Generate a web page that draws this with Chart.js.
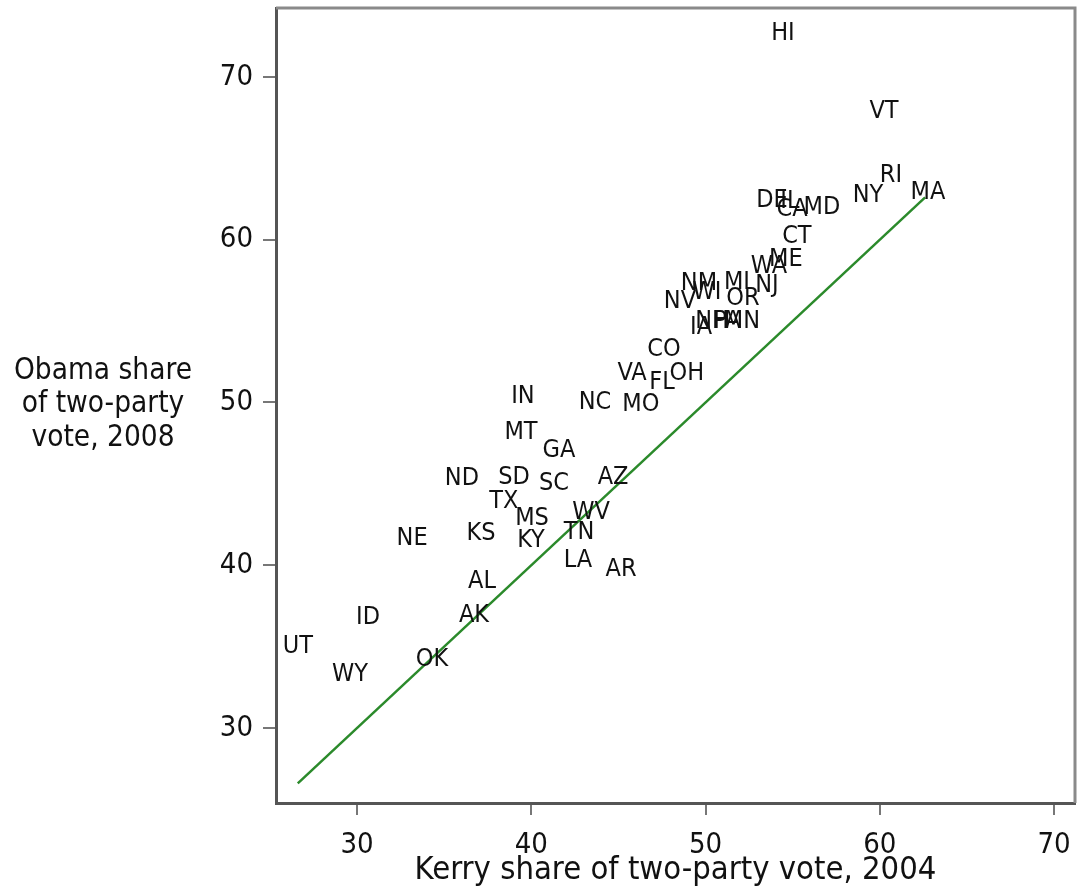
<!DOCTYPE html>
<html>
<head>
<meta charset="utf-8">
<script src="https://cdn.jsdelivr.net/npm/chart.js@4"></script>
<style>
  body { margin: 0; background: #fff; }
  canvas { display: block; }
</style>
</head>
<body>
<canvas id="chart" width="1079" height="894"></canvas>
<script>
// state abbreviations with Kerry 2004 / Obama 2008 two-party shares
const states = ['HI', 'VT', 'RI', 'NY', 'MA', 'DE', 'IL', 'CA', 'MD', 'CT',
    'ME', 'WA', 'NJ', 'MI', 'NM', 'WI', 'OR', 'NV', 'IA', 'NH',
    'PA', 'MN', 'CO', 'VA', 'OH', 'FL', 'MO', 'NC', 'IN', 'MT',
    'GA', 'ND', 'SD', 'SC', 'AZ', 'TX', 'MS', 'WV', 'TN', 'NE',
    'KS', 'KY', 'LA', 'AR', 'AL', 'AK', 'ID', 'UT', 'WY', 'OK'];
const kerry = [54.44, 60.24, 60.64, 59.32, 62.76, 53.81, 54.84, 54.96, 56.68, 55.24,
    54.61, 53.64, 53.52, 51.80, 49.62, 50.08, 52.15, 48.53, 49.74, 50.37,
    51.23, 52.09, 47.61, 45.78, 48.93, 47.50, 46.29, 43.65, 39.52, 39.41,
    41.59, 36.02, 39.01, 41.30, 44.69, 38.43, 40.04, 43.43, 42.74, 33.16,
    37.11, 39.98, 42.68, 45.15, 37.17, 36.71, 30.63, 26.61, 29.60, 34.30];
const obama = [72.70, 67.85, 63.92, 62.69, 62.93, 62.44, 62.38, 61.83, 62.01, 60.23,
    58.76, 58.33, 57.16, 57.40, 57.34, 56.73, 56.42, 56.18, 54.58, 54.95,
    54.95, 54.95, 53.23, 51.81, 51.81, 51.20, 49.85, 49.97, 50.34, 48.13,
    47.08, 45.36, 45.42, 45.05, 45.42, 43.89, 42.90, 43.21, 42.04, 41.67,
    41.98, 41.55, 40.32, 39.71, 38.97, 36.94, 36.76, 34.98, 33.26, 34.18];

// 45-degree reference line, from lowest to highest Kerry share
const lineX = [26.6, 62.6];

const xTicks = [30, 40, 50, 60, 70];
const yTicks = [30, 40, 50, 60, 70];

const yTitle = ['Obama share', 'of two-party', 'vote, 2008'];
const xTitle = 'Kerry share of two-party vote, 2004';

const FONT = '"DejaVu Sans Condensed", "DejaVu Sans", sans-serif';
Chart.defaults.font.family = FONT;

// draws the state abbreviations centered on each point
const stateLabels = {
    id: 'stateLabels',
    afterDatasetsDraw(chart) {
        const ctx = chart.ctx;
        const meta = chart.getDatasetMeta(0);
        ctx.save();
        ctx.font = '25px ' + FONT;
        ctx.fillStyle = '#111';
        ctx.textAlign = 'center';
        ctx.textBaseline = 'middle';
        meta.data.forEach((pt, i) => {
            ctx.fillText(states[i], pt.x, pt.y);
        });
        ctx.restore();
    }
};

// top and right edges of the plot box
const plotFrame = {
    id: 'plotFrame',
    afterDraw(chart) {
        const { ctx, chartArea: a } = chart;
        ctx.save();
        ctx.strokeStyle = '#8a8a8a';
        ctx.lineWidth = 3;
        ctx.beginPath();
        ctx.moveTo(a.left, a.top);
        ctx.lineTo(a.right, a.top);
        ctx.lineTo(a.right, a.bottom);
        ctx.stroke();
        ctx.restore();
    }
};

// horizontal y axis title, left of the tick labels
const sideTitle = {
    id: 'sideTitle',
    afterDraw(chart) {
        const ctx = chart.ctx;
        ctx.save();
        ctx.font = '29.5px ' + FONT;
        ctx.fillStyle = '#111';
        ctx.textAlign = 'center';
        ctx.textBaseline = 'middle';
        yTitle.forEach((line, i) => {
            ctx.fillText(line, 103, 371 + i * 33.5);
        });
        ctx.restore();
    }
};

new Chart(document.getElementById('chart'), {
    type: 'scatter',
    data: {
        datasets: [{
            data: kerry.map((x, i) => ({ x: x, y: obama[i] })),
            pointRadius: 0,
            showLine: false
        }, {
            type: 'line',
            data: lineX.map(v => ({ x: v, y: v })),
            borderColor: '#2b8a2b',
            borderWidth: 2.5,
            pointRadius: 0,
            fill: false
        }]
    },
    options: {
        responsive: false,
        animation: false,
        devicePixelRatio: 1,
        layout: { padding: { top: 8, right: 4, left: 0, bottom: 0 } },
        plugins: {
            legend: { display: false },
            tooltip: { enabled: false }
        },
        scales: {
            x: {
                type: 'linear',
                min: 25.35,
                max: 71.2,
                afterBuildTicks: s => { s.ticks = xTicks.map(v => ({ value: v })); },
                afterFit: s => {
                    s.height = 91;
                    s.paddingLeft = 0;
                    s.paddingRight = 0;
                },
                grid: { drawOnChartArea: false, drawTicks: true, tickLength: 12, color: '#777', lineWidth: 2 },
                border: { color: '#555', width: 3 },
                ticks: { color: '#111', padding: 16, font: { size: 29, lineHeight: 1 } },
                title: {
                    display: true,
                    text: xTitle,
                    color: '#111',
                    font: { size: 32.5, lineHeight: 1 },
                    padding: { top: 0, bottom: 7 }
                }
            },
            y: {
                type: 'linear',
                min: 25.39,
                max: 74.24,
                afterBuildTicks: s => { s.ticks = yTicks.map(v => ({ value: v })); },
                afterFit: s => {
                    s.width = 276;
                    s.paddingTop = 0;
                    s.paddingBottom = 0;
                },
                grid: { drawOnChartArea: false, drawTicks: true, tickLength: 13, color: '#777', lineWidth: 2 },
                border: { color: '#555', width: 3 },
                ticks: { color: '#111', padding: 10, font: { size: 29, lineHeight: 1 } }
            }
        }
    },
    plugins: [stateLabels, plotFrame, sideTitle]
});
</script>
</body>
</html>
